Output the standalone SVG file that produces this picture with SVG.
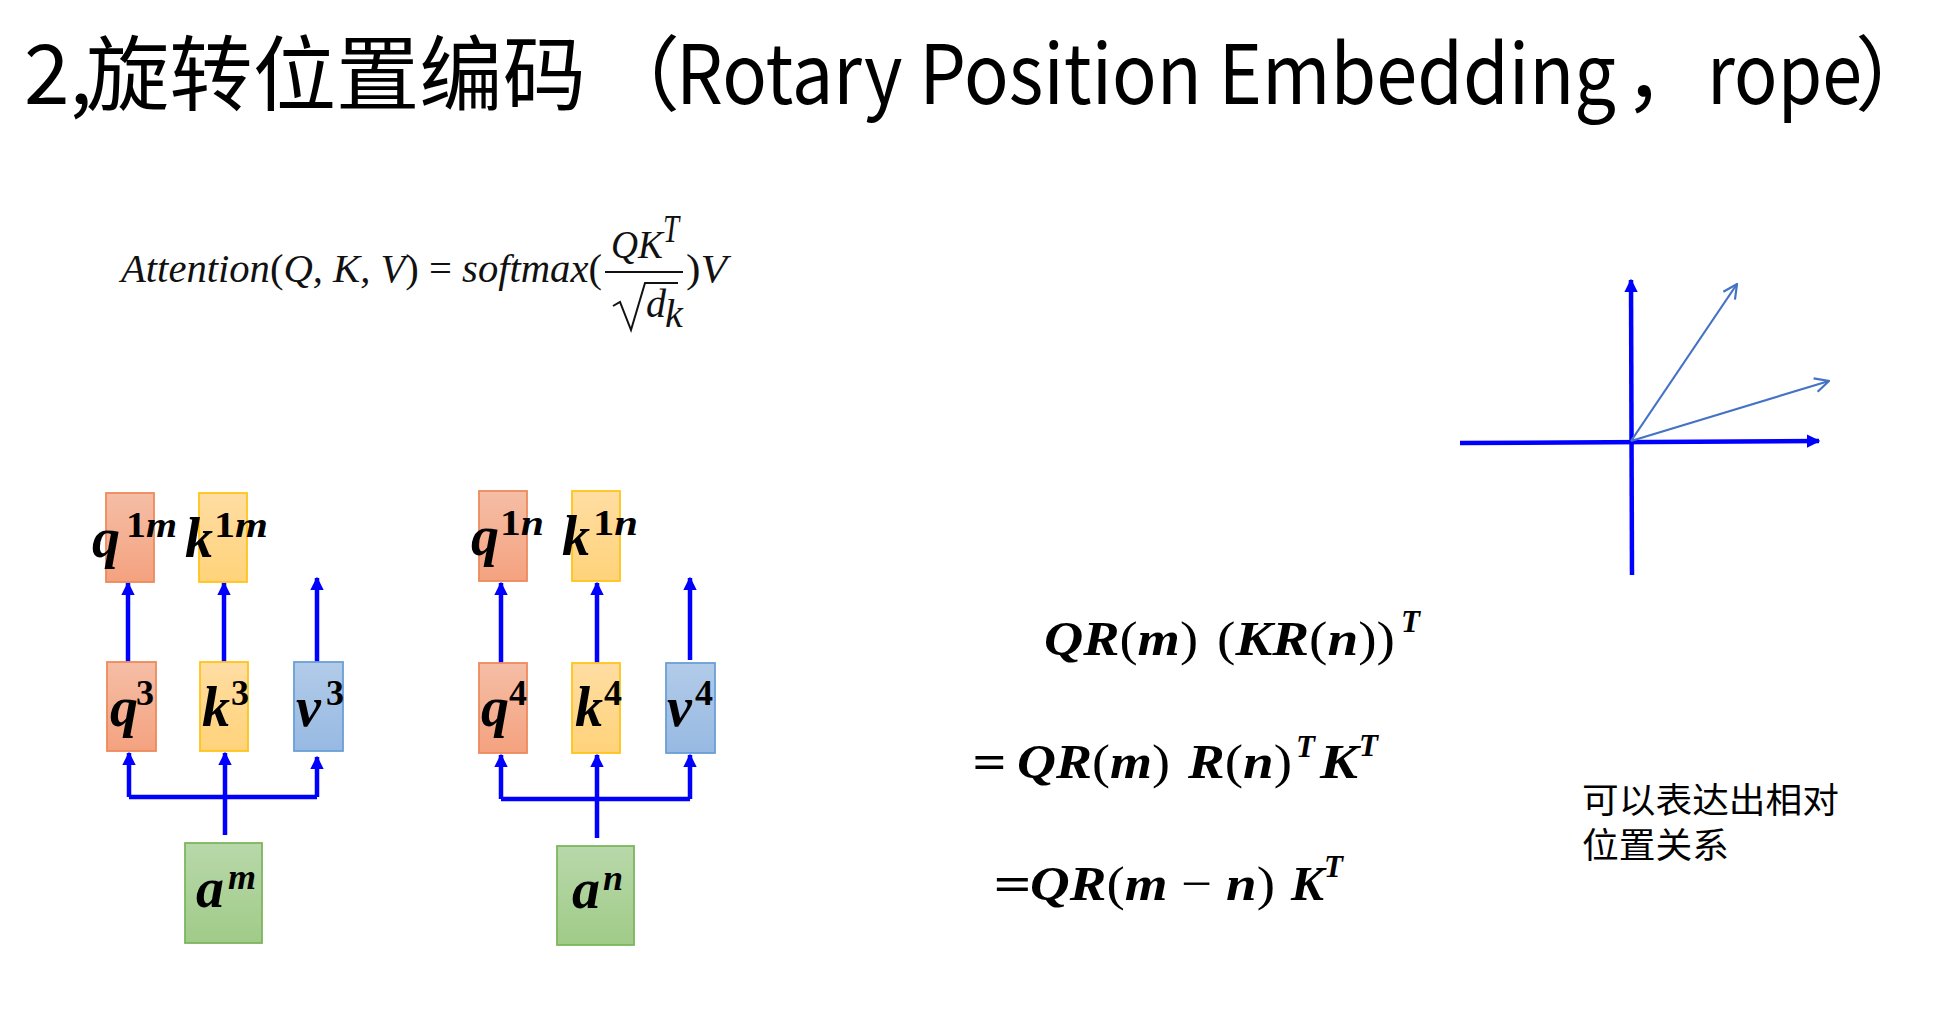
<svg xmlns="http://www.w3.org/2000/svg" width="1939" height="1034" viewBox="0 0 1939 1034">
<style>
.title{font-family:"Noto Sans CJK SC","Noto Sans",sans-serif;font-size:82px;fill:#000}
.att{font-family:"Liberation Serif","Times New Roman",serif;font-style:italic;font-size:40px;fill:#111}
.attUp{font-style:normal}
.m{font-family:"Liberation Serif","DejaVu Serif",serif;font-weight:bold;font-style:italic;font-size:56px;fill:#000}
.sup{font-size:36px}
.up{font-style:normal}
.thin{font-weight:normal;font-style:normal}
.eq{font-family:"Liberation Serif","DejaVu Serif",serif;font-weight:bold;font-style:italic;font-size:49px;fill:#000}
.eqs{font-size:31px}
.note{font-family:"Noto Sans CJK SC","Noto Sans",sans-serif;font-size:35px;fill:#000}
.conn{stroke:#0000FF;stroke-width:4.5;fill:none;marker-end:url(#ah)}
.bus{stroke:#0000FF;stroke-width:4.5;fill:none}
.axis{stroke:#0000FF;stroke-width:4.5;fill:none}
.vec{stroke:#4472C4;stroke-width:2.2;fill:none;marker-end:url(#oh)}
.br{fill:url(#gr);stroke:#EE8A5C;stroke-width:1.8}
.by{fill:url(#gy);stroke:#FFC41A;stroke-width:1.8}
.bb{fill:url(#gb);stroke:#6A9FD6;stroke-width:1.8}
.bg{fill:url(#gg);stroke:#7DB55E;stroke-width:1.8}
</style>
<defs>
<linearGradient id="gr" x1="0" y1="0" x2="0" y2="1"><stop offset="0" stop-color="#F5BEA6"/><stop offset="1" stop-color="#F4A27F"/></linearGradient>
<linearGradient id="gy" x1="0" y1="0" x2="0" y2="1"><stop offset="0" stop-color="#FFDDA3"/><stop offset="1" stop-color="#FFD37A"/></linearGradient>
<linearGradient id="gb" x1="0" y1="0" x2="0" y2="1"><stop offset="0" stop-color="#B2CBE9"/><stop offset="1" stop-color="#97B9E2"/></linearGradient>
<linearGradient id="gg" x1="0" y1="0" x2="0" y2="1"><stop offset="0" stop-color="#B8D8AA"/><stop offset="1" stop-color="#A0CB88"/></linearGradient>
<marker id="ah" viewBox="0 0 10 10" refX="9" refY="5" markerWidth="3" markerHeight="3" orient="auto-start-reverse" markerUnits="strokeWidth"><path d="M0,0 L10,5 L0,10 z" fill="#0000FF"/></marker>
<marker id="oh" viewBox="0 0 16 16" refX="15" refY="8" markerWidth="16" markerHeight="16" orient="auto" markerUnits="userSpaceOnUse"><path d="M1,1 L15,8 L1,15" fill="none" stroke="#4472C4" stroke-width="2.2"/></marker>
</defs>
<rect width="1939" height="1034" fill="#FFFFFF"/>

<g id="title">
<text class="title" x="24" y="104">2,</text>
<text class="title" x="86" y="104" textLength="500" lengthAdjust="spacingAndGlyphs">旋转位置编码</text>
<text class="title" x="598" y="104">（</text>
<text class="title" x="676" y="104" textLength="940" lengthAdjust="spacingAndGlyphs">Rotary Position Embedding</text>
<text class="title" x="1624" y="104">，</text>
<text class="title" x="1707" y="104" textLength="155" lengthAdjust="spacingAndGlyphs">rope</text>
<text class="title" x="1855" y="104">）</text>
</g>

<g id="attention-formula">
<text class="att" x="121" y="282" textLength="481" lengthAdjust="spacingAndGlyphs">Attention<tspan class="attUp">(</tspan>Q, K, V<tspan class="attUp">) = </tspan>softmax<tspan class="attUp">(</tspan></text>
<text class="att" x="611" y="258" textLength="52" lengthAdjust="spacingAndGlyphs">QK</text>
<text class="att" x="663" y="242" font-size="24" textLength="16" lengthAdjust="spacingAndGlyphs">T</text>
<line x1="605" y1="272" x2="683" y2="272" stroke="#111" stroke-width="2"/>
<path d="M613,306 L620,302 L631,330 L645,283 L678,283" fill="none" stroke="#111" stroke-width="2"/>
<text class="att" x="646" y="317">d</text>
<text class="att" x="665" y="327" font-size="22">k</text>
<text class="att" x="686" y="282" textLength="41" lengthAdjust="spacingAndGlyphs"><tspan class="attUp">)</tspan>V</text>
</g>

<g id="connectors">
<path class="conn" d="M128,665 V583"/>
<path class="conn" d="M224,663 V583"/>
<path class="conn" d="M317,662 V578"/>
<path class="conn" d="M129,797 V753"/>
<path class="bus" d="M129,797 H317"/>
<path class="conn" d="M317,797 V757"/>
<path class="conn" d="M225,835 V753"/>

<path class="conn" d="M501,665 V583"/>
<path class="conn" d="M597,663 V583"/>
<path class="conn" d="M690,660 V578"/>
<path class="conn" d="M501,799 V755"/>
<path class="bus" d="M501,799 H690"/>
<path class="conn" d="M690,799 V755"/>
<path class="conn" d="M597,838 V755"/>
</g>

<g id="node-q1m"><rect class="br" x="106" y="493" width="48" height="89"/><text class="m" x="92" y="557">q</text><text class="m sup" x="126" y="537" textLength="51" lengthAdjust="spacingAndGlyphs"><tspan class="up">1</tspan>m</text></g>
<g id="node-k1m"><rect class="by" x="199" y="493" width="48" height="89"/><text class="m" x="185" y="557">k</text><text class="m sup" x="214" y="537" textLength="54" lengthAdjust="spacingAndGlyphs"><tspan class="up">1</tspan>m</text></g>
<g id="node-q3"><rect class="br" x="107" y="662" width="49" height="89"/><text class="m" x="110" y="726">q</text><text class="m sup up" x="136" y="705">3</text></g>
<g id="node-k3"><rect class="by" x="200" y="662" width="48" height="89"/><text class="m" x="202" y="726">k</text><text class="m sup up" x="231" y="705">3</text></g>
<g id="node-v3"><rect class="bb" x="294" y="662" width="49" height="89"/><text class="m" x="296" y="726">v</text><text class="m sup up" x="326" y="705">3</text></g>
<g id="node-am"><rect class="bg" x="185" y="843" width="77" height="100"/><text class="m" x="196" y="907">a</text><text class="m sup" x="228" y="889">m</text></g>

<g id="node-q1n"><rect class="br" x="479" y="491" width="48" height="90"/><text class="m" x="471" y="555">q</text><text class="m sup" x="500" y="535" textLength="44" lengthAdjust="spacingAndGlyphs"><tspan class="up">1</tspan>n</text></g>
<g id="node-k1n"><rect class="by" x="572" y="491" width="48" height="90"/><text class="m" x="562" y="555">k</text><text class="m sup" x="593" y="535" textLength="45" lengthAdjust="spacingAndGlyphs"><tspan class="up">1</tspan>n</text></g>
<g id="node-q4"><rect class="br" x="479" y="663" width="48" height="90"/><text class="m" x="481" y="726">q</text><text class="m sup up" x="509" y="705">4</text></g>
<g id="node-k4"><rect class="by" x="572" y="663" width="48" height="90"/><text class="m" x="575" y="726">k</text><text class="m sup up" x="604" y="705">4</text></g>
<g id="node-v4"><rect class="bb" x="666" y="663" width="49" height="90"/><text class="m" x="667" y="726">v</text><text class="m sup up" x="695" y="705">4</text></g>
<g id="node-an"><rect class="bg" x="557" y="846" width="77" height="99"/><text class="m" x="572" y="908">a</text><text class="m sup" x="603" y="890">n</text></g>

<g id="rope-equations">
<text class="eq" x="1044" y="655" textLength="154" lengthAdjust="spacingAndGlyphs">QR<tspan class="thin">(</tspan>m<tspan class="thin">)</tspan></text>
<text class="eq" x="1217" y="655" textLength="178" lengthAdjust="spacingAndGlyphs"><tspan class="thin">(</tspan>KR<tspan class="thin">(</tspan>n<tspan class="thin">))</tspan></text>
<text class="eq eqs" x="1401" y="632">T</text>

<text class="eq" x="972" y="778" textLength="34" lengthAdjust="spacingAndGlyphs">=</text>
<text class="eq" x="1017" y="778" textLength="153" lengthAdjust="spacingAndGlyphs">QR<tspan class="thin">(</tspan>m<tspan class="thin">)</tspan></text>
<text class="eq" x="1188" y="778" textLength="104" lengthAdjust="spacingAndGlyphs">R<tspan class="thin">(</tspan>n<tspan class="thin">)</tspan></text>
<text class="eq eqs" x="1296" y="757">T</text>
<text class="eq" x="1320" y="778" textLength="38" lengthAdjust="spacingAndGlyphs">K</text>
<text class="eq eqs" x="1359" y="756">T</text>

<text class="eq" x="993" y="900" textLength="38" lengthAdjust="spacingAndGlyphs">=</text>
<text class="eq" x="1030" y="900" textLength="245" lengthAdjust="spacingAndGlyphs">QR<tspan class="thin">(</tspan>m <tspan class="thin">−</tspan> n<tspan class="thin">)</tspan></text>
<text class="eq" x="1291" y="900" textLength="33" lengthAdjust="spacingAndGlyphs">K</text>
<text class="eq eqs" x="1324" y="877">T</text>
</g>

<g id="vector-diagram">
<path class="axis" d="M1460,443 L1819,441" style="marker-end:url(#ah)"/>
<path class="axis" d="M1632,575 L1631,280" style="marker-end:url(#ah)"/>
<path class="vec" d="M1631,441 L1737,284"/>
<path class="vec" d="M1631,441 L1829,381"/>
</g>

<g id="note">
<text class="note" x="1582" y="813" textLength="257" lengthAdjust="spacingAndGlyphs">可以表达出相对</text>
<text class="note" x="1582" y="858" textLength="147" lengthAdjust="spacingAndGlyphs">位置关系</text>
</g>
</svg>
